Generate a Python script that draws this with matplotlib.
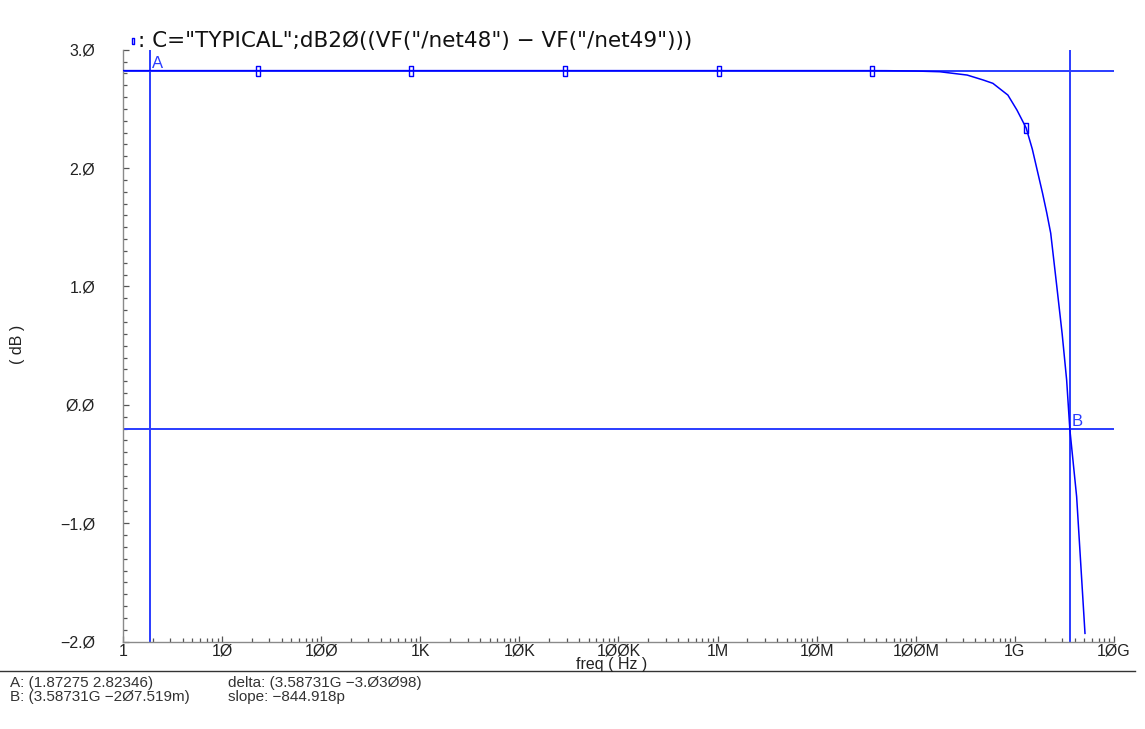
import numpy as np
import matplotlib
matplotlib.use('Agg')
import matplotlib.pyplot as plt
from matplotlib.lines import Line2D
from matplotlib.ticker import FixedLocator, FixedFormatter, LogLocator, NullFormatter, MultipleLocator

# waveform data (freq in Hz, gain in dB)
freq_hz = [1, 1e3, 1e6, 1e7, 3.6e7, 5e7, 1e8, 1.75e8, 2.4e8, 3.3e8, 4.8e8, 6e8,
           8.5e8, 1.05e9, 1.3e9, 1.5e9, 1.9e9, 2.1e9, 2.3e9, 2.65e9, 3.0e9,
           3.33e9, 3.58731e9, 4.2e9, 5.1e9]
gain_db = [2.82346, 2.82346, 2.82346, 2.8234, 2.8233, 2.823, 2.82, 2.814, 2.80,
           2.786, 2.744, 2.716, 2.617, 2.49, 2.339, 2.16, 1.79, 1.62, 1.45, 1.0,
           0.6, 0.21, -0.207519, -0.775, -1.93]

# small rectangle markers along the trace
marker_hz = [23, 805, 2.9e4, 1.03e6, 3.6e7, 1.31e9]
marker_db = [2.82346, 2.82346, 2.82346, 2.82346, 2.82346, 2.339]

# cursors
cursor_a = (1.87275, 2.82346)
cursor_b = (3.58731e9, -0.207519)

x_ticks = [1, 1e1, 1e2, 1e3, 1e4, 1e5, 1e6, 1e7, 1e8, 1e9, 1e10]
x_labels = ['1', '1Ø', '1ØØ', '1K', '1ØK', '1ØØK', '1M', '1ØM', '1ØØM', '1G', '1ØG']
y_ticks = [-2, -1, 0, 1, 2, 3]
y_labels = ['\u22122.Ø', '\u22121.Ø', 'Ø.Ø', '1.Ø', '2.Ø', '3.Ø']

title = ': C="TYPICAL";dB2Ø((VF("/net48") \u2212 VF("/net49")))'
readout_a = 'A: (1.87275 2.82346)'
readout_b = 'B: (3.58731G \u22122Ø7.519m)'
readout_delta = 'delta: (3.58731G \u22123.Ø3Ø98)'
readout_slope = 'slope: \u2212844.918p'

plt.rcParams['font.family'] = ['Liberation Sans', 'DejaVu Sans']

blue = '#0000ff'
cursor_blue = '#2a3cff'
gray = '#8a8a8a'
rect = [(-1, -2.6), (1, -2.6), (1, 2.6), (-1, 2.6), (-1, -2.6)]

fig = plt.figure(figsize=(11.45, 7.29), dpi=100)
ax = fig.add_axes([0.1074, 0.1198, 0.8655, 0.812])

ax.plot(freq_hz, gain_db, color=blue, lw=1.1, zorder=3)
ax.plot(marker_hz, marker_db, ls='none', marker=rect, ms=7, mfc='none',
        mec=blue, mew=1.0, zorder=4)

ax.axvline(cursor_a[0], color=cursor_blue, lw=1.4, zorder=2)
ax.axhline(cursor_a[1], color=cursor_blue, lw=1.4, zorder=2)
ax.axvline(cursor_b[0], color=cursor_blue, lw=1.4, zorder=2)
ax.axhline(cursor_b[1], color=cursor_blue, lw=1.4, zorder=2)
ax.annotate('A', cursor_a, xytext=(1.5, 0), textcoords='offset points',
            ha='left', va='bottom', color=cursor_blue, fontsize=12)
ax.annotate('B', cursor_b, xytext=(1.5, 0), textcoords='offset points',
            ha='left', va='bottom', color=cursor_blue, fontsize=12)

ax.set_xscale('log')
ax.set_xlim(1, 1e10)
ax.set_ylim(-2, 3)

ax.xaxis.set_major_locator(FixedLocator(x_ticks))
ax.xaxis.set_major_formatter(FixedFormatter(x_labels))
ax.xaxis.set_minor_locator(LogLocator(base=10, subs=np.arange(2, 10), numticks=20))
ax.xaxis.set_minor_formatter(NullFormatter())
ax.yaxis.set_major_locator(FixedLocator(y_ticks))
ax.yaxis.set_major_formatter(FixedFormatter(y_labels))
ax.yaxis.set_minor_locator(MultipleLocator(0.1))

for side in ['top', 'right']:
    ax.spines[side].set_visible(False)
for side in ['left', 'bottom']:
    ax.spines[side].set_color(gray)
    ax.spines[side].set_linewidth(1.0)

ax.tick_params(which='both', direction='in', color='#555555', width=0.9,
               labelsize=11.5, labelcolor='#222222')
ax.tick_params(which='major', length=4.5)
ax.tick_params(which='minor', length=2.8)
ax.tick_params(axis='y', which='major', pad=20)
ax.tick_params(axis='x', which='major', pad=1.5)

fig.text(0.5345, 0.0885, 'freq ( Hz )', ha='center', va='center',
         fontsize=11.5, color='#222222')
fig.text(0.0157, 0.527, '( dB )', ha='center', va='center', rotation=90,
         fontsize=11.5, color='#222222')

# trace legend: marker + expression
fig.add_artist(Line2D([0.1162], [0.944], transform=fig.transFigure, ls='none',
                      marker=rect, ms=5, mfc='none', mec=blue, mew=1.0))
fig.text(0.1205, 0.944, title, ha='left', va='center', fontsize=15.5,
         color='#111111', family=['DejaVu Sans'])

# cursor readout strip
fig.add_artist(Line2D([0.0, 0.991], [0.0795, 0.0795], transform=fig.transFigure,
                      color='#333333', lw=1.0))
fig.text(0.0087, 0.0625, readout_a, ha='left', va='center', fontsize=11, color='#333333')
fig.text(0.0087, 0.0435, readout_b, ha='left', va='center', fontsize=11, color='#333333')
fig.text(0.199, 0.0625, readout_delta, ha='left', va='center', fontsize=11, color='#333333')
fig.text(0.199, 0.0435, readout_slope, ha='left', va='center', fontsize=11, color='#333333')

fig.savefig('out.png', dpi=100)
